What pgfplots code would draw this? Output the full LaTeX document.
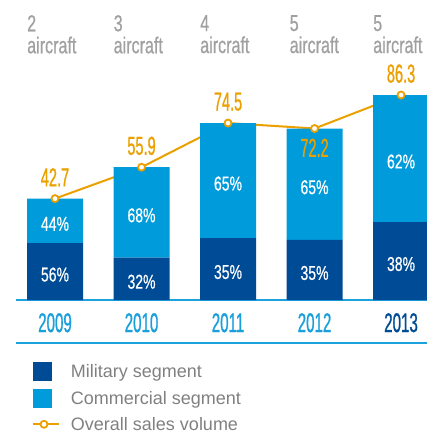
\documentclass[border=0pt]{standalone}
\usepackage{pgfplots}
\pgfplotsset{compat=1.18}
\usepackage{fontspec}
\setmainfont{Liberation Sans}
\newfontfamily\condA[FakeStretch=0.56, FakeBold=0.8]{Liberation Sans}
\newfontfamily\condB[FakeStretch=0.70, FakeBold=0.6]{Liberation Sans}
\newfontfamily\condC[FakeStretch=0.70]{Liberation Sans}
\definecolor{milblue}{HTML}{004B96}
\definecolor{comblue}{HTML}{009BDB}
\definecolor{orng}{HTML}{EBA000}
\definecolor{yearblue}{HTML}{1A9FDB}
\definecolor{lineblue}{HTML}{1CA3DE}
\definecolor{acgray}{HTML}{A0A0A0}
\definecolor{leggray}{HTML}{808080}
\begin{document}
\begin{tikzpicture}
\useasboundingbox (-16pt,-134pt) rectangle (411pt,300pt);
\begin{axis}[
  scale only axis, width=411pt, height=300pt,
  xmin=-0.451, xmax=4.30, ymin=0, ymax=126.3,
  stack plots=y,
  axis y line=none, axis x line=bottom,
  x axis line style={-, draw=lineblue, line width=2.2pt},
  xtick={0,1,2,3,4},
  xticklabels={2009,2010,2011,2012,{\textcolor{milblue}{2013}}},
  xtick style={draw=none}, major tick length=0pt,
  xticklabel style={font=\condA\fontsize{27}{27}\selectfont, text=yearblue, anchor=north, inner sep=0pt, yshift=-13pt},
  clip=false,
  legend cell align=left,
  legend style={at={(0.0389,-0.2067)}, anchor=north west, draw=none, fill=none, inner sep=0pt, outer sep=0pt, row sep=8pt, font=\fontsize{18}{18}\selectfont, text=leggray, nodes={inner sep=1pt}},
]
\addplot[ybar, bar width=56pt, fill=milblue, draw=none,
  legend image code/.code={\fill[milblue] (0pt,-9.5pt) rectangle (19pt,9.5pt); \path[draw=none,fill=none] (0pt,0pt) -- (37pt,0pt);}]
  coordinates {(0,23.91) (1,17.89) (2,26.08) (3,25.27) (4,32.79)};
\addlegendentry{Military segment}
\addplot[ybar, bar width=56pt, fill=comblue, draw=none,
  legend image code/.code={\fill[comblue] (0pt,-9.5pt) rectangle (19pt,9.5pt); \path[draw=none,fill=none] (0pt,0pt) -- (37pt,0pt);}]
  coordinates {(0,18.79) (1,38.01) (2,48.42) (3,46.93) (4,53.51)};
\addlegendentry{Commercial segment}
\addplot[sharp plot, stack plots=false, draw=orng, line width=2pt, mark=*, mark size=3.5pt,
  mark options={fill=white, draw=orng, line width=1.8pt},
  legend image code/.code={\draw[orng, line width=2pt] (0pt,0pt) -- (26pt,0pt); \draw[orng, line width=1.8pt, fill=white] (11pt,0pt) circle (3.5pt); \path[draw=none,fill=none] (0pt,0pt) -- (37pt,0pt);}]
  coordinates {(0,42.7) (1,55.9) (2,74.5) (3,72.2) (4,86.3)};
\addlegendentry{Overall sales volume}
% value labels above
\addplot[forget plot, stack plots=false, only marks, mark=none, draw=none, fill=none,
  point meta=explicit symbolic, nodes near coords,
  every node near coord/.style={anchor=south, inner sep=0pt, yshift=12pt, font=\condA\fontsize{26}{26}\selectfont, text=orng}]
  coordinates {(0,42.7) [42.7] (1,55.9) [55.9] (2,74.5) [74.5] (4,86.3) [86.3]};
% value label below
\addplot[forget plot, stack plots=false, only marks, mark=none, draw=none, fill=none,
  point meta=explicit symbolic, nodes near coords,
  every node near coord/.style={anchor=north, inner sep=0pt, yshift=-10pt, font=\condA\fontsize{26}{26}\selectfont, text=orng}]
  coordinates {(3,72.2) [72.2]};
% percent labels
\addplot[forget plot, stack plots=false, only marks, mark=none, draw=none, fill=none,
  point meta=explicit symbolic, nodes near coords,
  every node near coord/.style={anchor=center, inner sep=0pt, yshift=-3pt, font=\condB\fontsize{20}{20}\selectfont, text=white}]
  coordinates {(0,11.96) [56\%] (1,8.94) [32\%] (2,13.04) [35\%] (3,12.64) [35\%] (4,16.40) [38\%]
               (0,33.31) [44\%] (1,36.90) [68\%] (2,50.29) [65\%] (3,48.74) [65\%] (4,59.55) [62\%]};
% aircraft labels
\foreach \i/\n/\dx in {0/2/0,1/3/0,2/4/0,3/5/3,4/5/0}{
  \edef\temp{\noexpand\node[anchor=north west, inner sep=0pt, font=\noexpand\condB\noexpand\fontsize{23}{22}\noexpand\selectfont, text=acgray, align=left] at ([xshift=-28pt+\dx pt, yshift=-15pt]axis cs:\i,126.3) {\n\noexpand\\aircraft};}
  \temp
}
\end{axis}
\draw[lineblue, line width=2.2pt] (0pt,-43pt) -- (411pt,-43pt);
\end{tikzpicture}
\end{document}
